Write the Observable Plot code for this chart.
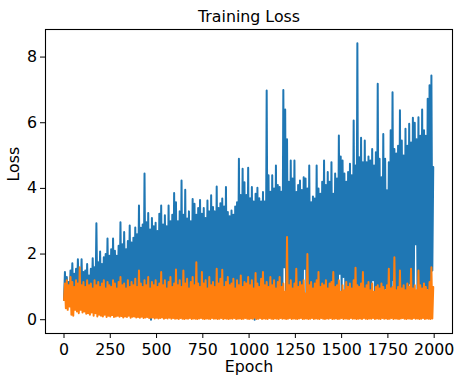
<!DOCTYPE html>
<html><head><meta charset="utf-8">
<script src="https://cdn.jsdelivr.net/npm/d3@7"></script>
<script src="https://cdn.jsdelivr.net/npm/@observablehq/plot@0.6"></script>
<style>body{margin:0;background:#fff}svg{display:block}</style>
</head><body><div id="chart"></div>
<script>
// Values, one low and one high per 10-epoch bin
const binStep = 10;
const blueHi = [
1.45,1.3,1.15,1.5,1.72,1.4,1.55,1.84,1.4,1.84,
1.45,1.5,1.7,1.35,1.55,1.87,1.6,2.94,1.75,2.08,
1.7,1.9,2.0,2.47,1.95,2.15,2.47,2.1,1.95,2.25,
2.97,2.3,2.67,2.15,2.4,2.87,2.35,2.5,2.81,2.6,
3.48,2.8,2.9,4.45,2.97,3.25,2.75,3.1,2.85,2.95,
2.7,3.23,3.48,2.9,3.18,2.85,3.48,3.0,3.2,3.86,
3.58,3.0,3.3,4.24,3.2,3.96,3.08,3.3,3.0,3.68,
3.53,3.2,3.4,3.65,3.23,3.4,3.1,3.63,3.3,3.79,
3.43,3.3,4.06,3.4,3.55,3.69,3.45,4.04,3.28,3.15,
3.33,3.2,3.45,3.58,4.9,3.8,4.6,4.19,3.8,4.63,
3.7,4.04,3.6,3.84,4.02,3.7,3.6,3.89,3.6,6.98,
4.4,3.9,4.4,4.0,4.7,4.1,4.04,3.9,7.0,6.4,
5.5,4.2,4.85,4.3,4.85,3.89,4.1,4.24,3.95,4.34,
4.3,4.0,4.7,3.58,3.75,3.69,4.7,4.0,3.84,4.2,
4.85,4.1,4.5,4.2,4.8,3.84,4.45,4.3,5.61,4.97,
4.85,4.45,4.2,4.5,4.75,4.4,6.07,4.7,8.42,4.95,
5.54,4.8,5.46,4.8,4.97,4.85,5.2,4.7,5.1,7.19,
4.9,4.34,5.66,4.9,3.94,4.8,5.77,6.93,5.2,5.06,
5.3,6.38,5.46,5.0,5.82,5.3,5.97,5.4,6.15,6.0,
5.5,6.17,5.6,6.4,5.77,5.6,6.73,7.14,7.44,4.65
];
const blueLo = [
0.6,0.7,0.55,0.45,0.8,0.6,0.5,0.75,0.55,0.65,
0.5,0.7,0.6,0.45,0.65,0.55,0.7,0.5,0.6,0.45,
0.55,0.65,0.4,0.6,0.5,0.7,0.45,0.55,0.6,0.5,
0.45,0.6,0.5,0.65,0.4,0.55,0.6,0.45,0.5,0.6,
0.55,0.45,0.6,0.5,0.65,0.45,0.55,0.0,0.6,0.5,
0.6,0.45,0.55,0.65,0.5,0.6,0.45,0.7,0.55,0.5,
0.6,0.5,0.65,0.45,0.55,0.6,0.5,0.7,0.45,0.6,
0.55,0.65,0.5,0.6,0.45,0.7,0.55,0.6,0.5,0.65,
0.6,0.5,0.7,0.55,0.6,0.45,0.65,0.5,0.7,0.55,
0.6,0.65,0.5,0.7,0.55,0.6,0.75,0.5,0.65,0.6,
0.7,0.55,0.65,0.0,0.6,0.75,0.5,0.65,0.7,0.6,
0.75,0.6,0.7,0.55,0.8,0.65,0.7,0.6,0.75,1.6,
0.65,0.8,0.7,0.6,0.85,0.7,0.75,0.65,0.8,0.7,
1.55,0.75,0.7,0.8,0.65,0.85,0.7,0.75,0.8,0.7,
0.85,0.7,0.8,0.75,0.9,0.7,0.8,0.85,0.75,1.4,
0.8,1.3,0.85,0.75,0.9,0.8,0.85,0.75,0.9,0.8,
0.85,0.9,0.8,0.95,0.85,0.8,0.9,1.2,0.85,0.9,
0.95,0.85,0.9,0.8,0.95,0.9,0.85,1.0,1.2,0.9,
0.85,0.95,0.9,1.0,0.85,0.9,0.95,1.1,0.9,0.95,
2.3,0.9,1.0,0.95,0.9,1.05,0.95,0.9,1.0,1.5
];
const orangeHi = [
1.1,1.2,1.05,1.3,1.15,1.0,1.2,1.1,1.6,1.05,
1.15,1.0,1.2,1.05,1.1,0.95,1.2,1.05,1.15,1.0,
1.1,1.2,0.95,1.15,1.05,1.0,1.2,1.1,0.95,1.15,
1.3,1.05,1.1,0.95,1.2,1.0,1.15,1.05,1.25,1.0,
1.5,1.1,1.0,1.2,1.05,1.3,0.95,1.15,1.05,1.2,
1.0,1.1,1.45,1.05,1.2,0.95,1.15,1.3,1.0,1.1,
1.53,1.05,1.2,1.0,1.5,1.1,1.25,0.95,1.15,1.3,
1.05,1.75,1.1,1.0,1.45,1.1,1.2,0.95,1.3,1.05,
1.15,1.0,1.55,1.1,1.25,1.52,1.0,1.15,1.3,1.05,
1.1,1.25,0.95,1.2,1.05,1.35,1.0,1.15,1.1,1.3,
1.05,1.2,0.95,1.42,1.1,1.0,1.25,1.45,1.05,1.15,
1.0,1.3,1.05,1.2,0.95,1.15,1.3,1.0,1.1,0.85,
2.52,1.05,1.2,0.95,1.1,1.55,1.0,1.15,1.05,1.2,
0.8,2.0,1.05,1.15,0.95,1.1,1.2,1.45,1.0,1.1,
1.05,1.2,0.95,1.1,1.15,1.45,1.0,1.05,1.2,0.85,
1.05,0.9,1.15,1.0,1.1,0.95,1.2,1.58,1.05,1.0,
1.1,1.45,0.95,1.05,1.15,0.9,1.1,0.85,1.0,1.05,
0.95,1.1,1.0,0.9,1.05,1.55,0.95,1.0,1.9,0.9,
1.0,1.5,0.95,1.05,0.9,1.1,1.0,1.55,0.95,1.05,
0.9,1.5,1.05,0.95,1.1,1.0,0.9,1.15,1.6,1.0
];
const orangeLo = [
0.6,0.35,0.3,0.4,0.15,0.12,0.3,0.25,0.2,0.3,
0.22,0.25,0.18,0.2,0.15,0.22,0.12,0.2,0.1,0.15,
0.12,0.1,0.15,0.08,0.12,0.1,0.14,0.08,0.1,0.12,
0.09,0.11,0.07,0.1,0.08,0.12,0.06,0.09,0.1,0.07,
0.08,0.06,0.09,0.05,0.07,0.08,0.05,0.06,0.07,0.04,
0.06,0.04,0.05,0.07,0.03,0.05,0.04,0.06,0.03,0.05,
0.03,0.04,0.02,0.05,0.03,0.02,0.04,0.03,0.05,0.02,
0.04,0.03,0.02,0.04,0.05,0.03,0.02,0.04,0.03,0.02,
0.05,0.03,0.04,0.02,0.03,0.05,0.02,0.04,0.03,0.02,
0.04,0.03,0.05,0.02,0.03,0.04,0.02,0.03,0.05,0.03,
0.02,0.04,0.03,0.06,0.02,0.03,0.05,0.02,0.04,0.03,
0.02,0.05,0.03,0.02,0.04,0.03,0.02,0.05,0.03,0.04,
0.02,0.03,0.05,0.02,0.04,0.03,0.02,0.04,0.05,0.02,
0.03,0.04,0.02,0.03,0.05,0.02,0.04,0.03,0.02,0.05,
0.03,0.02,0.04,0.03,0.05,0.02,0.03,0.04,0.02,0.03,
0.05,0.02,0.04,0.03,0.02,0.05,0.03,0.04,0.02,0.03,
0.04,0.02,0.05,0.03,0.02,0.04,0.03,0.05,0.02,0.04,
0.03,0.02,0.05,0.03,0.04,0.02,0.03,0.05,0.02,0.04,
0.03,0.02,0.04,0.05,0.03,0.02,0.04,0.03,0.02,0.05,
0.03,0.04,0.02,0.03,0.05,0.02,0.04,0.03,0.02,0.04
];
const xTicks = [0,250,500,750,1000,1250,1500,1750,2000];
const yTicks = [0,2,4,6,8];
const titleText = "Training Loss";
const xLabel = "Epoch";
const yLabel = "Loss";

function toSeries(lo, hi) {
  const out = [];
  lo.forEach((v, i) => {
    out.push({epoch: i * binStep, loss: v});
    out.push({epoch: i * binStep + binStep / 2, loss: hi[i]});
  });
  return out;
}
const blueData = toSeries(blueLo, blueHi);
const orangeData = toSeries(orangeLo, orangeHi);

const FS = 15.8;
const chart = Plot.plot({
  width: 469,
  height: 386,
  marginLeft: 45,
  marginRight: 17,
  marginTop: 29,
  marginBottom: 53,
  style: {fontFamily: "DejaVu Sans, sans-serif", fontSize: FS + "px", background: "#fff", color: "#000", overflow: "visible"},
  x: {domain: [-100, 2099]},
  y: {domain: [-0.42, 8.84]},
  marks: [
    Plot.line(blueData, {x: "epoch", y: "loss", stroke: "#1f77b4", strokeWidth: 2}),
    Plot.line(orangeData, {x: "epoch", y: "loss", stroke: "#ff7f0e", strokeWidth: 2}),
    Plot.frame({stroke: "#000", strokeWidth: 1.1}),
    Plot.axisX({ticks: xTicks, tickSize: 5, tickPadding: 5, label: null, fontSize: FS, tickFormat: d => String(d)}),
    Plot.axisY({ticks: yTicks, tickSize: 5, tickPadding: 3.5, label: null, fontSize: FS, tickFormat: d => String(d)}),
    Plot.text([titleText], {frameAnchor: "top", dy: -7.5, lineAnchor: "bottom", fontSize: FS, fill: "#000"}),
    Plot.text([xLabel], {frameAnchor: "bottom", dy: 38.7, lineAnchor: "bottom", fontSize: FS, fill: "#000"}),
    Plot.text([yLabel], {frameAnchor: "left", dx: -31.5, rotate: -90, lineAnchor: "middle", fontSize: FS, fill: "#000"})
  ]
});
document.getElementById("chart").appendChild(chart);
</script>
</body></html>
